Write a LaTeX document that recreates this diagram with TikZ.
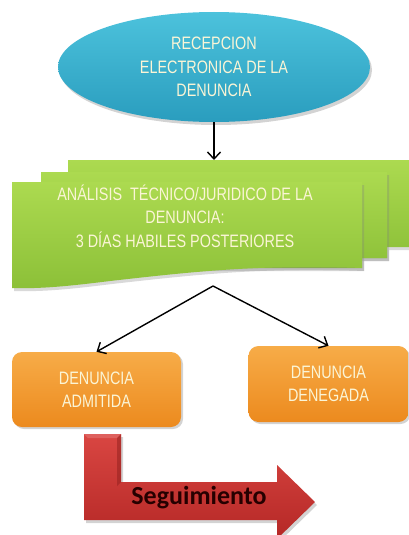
\documentclass[tikz,border=0pt]{standalone}
\usepackage{fontspec}
\setmainfont{Liberation Sans}[FakeStretch=0.8]
\newfontfamily\segfont{Carlito}
\usepackage{xcolor}
\usepackage{tikz}
\usetikzlibrary{shapes.geometric,arrows.meta,shadows}

\definecolor{cielo}{HTML}{2A9DBE}
\definecolor{cieloclaro}{HTML}{4CC2DC}
\definecolor{verde}{HTML}{8CC038}
\definecolor{verdeclaro}{HTML}{ACDA50}
\definecolor{naranja}{HTML}{EC8A1E}
\definecolor{naranjaclaro}{HTML}{F7AC48}
\definecolor{rojo}{HTML}{B52826}
\definecolor{rojoclaro}{HTML}{D94642}
\definecolor{crema}{HTML}{FBF5D6}

\tikzset{
  texto/.style={font=\fontsize{18}{23.5}\selectfont, text=crema, align=center},
  caja/.style={texto, rounded corners=10pt, top color=naranjaclaro, bottom color=naranja,
    drop shadow={opacity=0.35, shadow xshift=2pt, shadow yshift=-2pt}},
  hoja/.style={top color=verdeclaro, bottom color=verde,
    drop shadow={opacity=0.3, shadow xshift=2pt, shadow yshift=-3pt}},
  flecha/.style={line width=1.4pt, -{Straight Barb[length=7pt,width=13pt,line width=1.4pt]}}
}

\begin{document}
\begin{tikzpicture}[x=1pt, y=-1pt]
\useasboundingbox (0,0) rectangle (409,535);
\clip (0,0) rectangle (409,535);

% recepcion
\node[ellipse, texto, minimum width=312pt, minimum height=110pt, inner sep=0pt,
  top color=cieloclaro, bottom color=cielo,
  drop shadow={opacity=0.35, shadow xshift=2pt, shadow yshift=-3pt}]
  (Recepcion) at (214,67) {RECEPCION\\ELECTRONICA DE LA\\DENUNCIA};

% analisis, three sheets
\path[hoja] (68,160) -- (420,160) -- (420,247) -- (387,247) -- (387,258) -- (68,258) -- cycle;
\path[hoja] (41,172) -- (387,172) -- (387,258) -- (362,258) -- (362,268) -- (41,268) -- cycle;
\path[hoja] (12,182) -- (362,182) -- (362,268)
  .. controls (260,264) and (190,272) .. (110,281)
  .. controls (70,286) and (40,289) .. (12,288) -- cycle;
\node[texto, inner sep=0pt] (Analisis) at (185,216)
  {AN\'ALISIS \ T\'ECNICO/JURIDICO DE LA\\DENUNCIA:\\3 D\'IAS HABILES POSTERIORES};
\coordinate (AnalisisTop) at (214,160);
\coordinate (Split) at (213,286);

% resultados
\node[caja, minimum width=169pt, minimum height=75pt, inner sep=0pt] (Admitida) at (96.5,389.5) {DENUNCIA\\ADMITIDA};
\node[caja, minimum width=160pt, minimum height=76pt, inner sep=0pt] (Denegada) at (328.5,384) {DENUNCIA\\DENEGADA};

% conectores
\draw[flecha] (Recepcion.south) -- (AnalisisTop);
\draw[flecha] (Split) -- (Admitida.north);
\draw[flecha] (Split) -- (Denegada.north);

% seguimiento
\path[top color=rojoclaro, bottom color=rojo,
  drop shadow={opacity=0.35, shadow xshift=2pt, shadow yshift=-3pt}]
  (84,434) -- (121,434) -- (121,482) -- (277,482) -- (277,465) -- (315,502)
  -- (277,539) -- (277,520) -- (84,520) -- cycle;
\fill[rojoclaro!70!white, opacity=0.5] (84,434) -- (121,434) -- (117,438) -- (88,438) -- cycle;
\fill[rojo!80!black, opacity=0.5] (121,434) -- (121,482) -- (117,486) -- (117,438) -- cycle;
\node[font=\segfont\bfseries\fontsize{26}{30}\selectfont, text=black!85!red] (Seguimiento) at (199,498) {Seguimiento};
\end{tikzpicture}
\end{document}
